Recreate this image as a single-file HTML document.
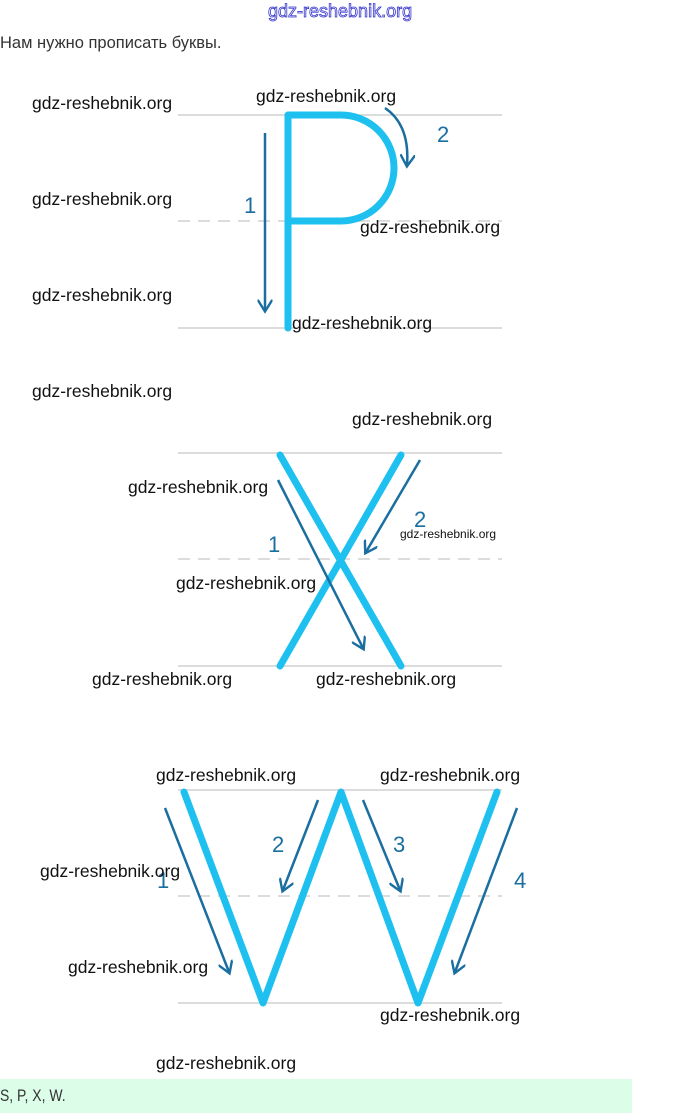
<!DOCTYPE html>
<html><head><meta charset="utf-8"><style>
body{margin:0;width:680px;height:1114px;background:#fff;position:relative;overflow:hidden;font-family:"Liberation Sans",sans-serif}
.w{position:absolute;font-size:17.5px;color:#111;white-space:nowrap}
</style></head><body>
<div style="position:absolute;left:268px;top:1px;font-size:18px;color:#fff;-webkit-text-stroke:0.8px #3333cc;">gdz-reshebnik.org</div>
<div style="position:absolute;left:0;top:34px;font-size:16.5px;color:#333;">Нам нужно прописать буквы.</div>
<svg width="680" height="1114" style="position:absolute;left:0;top:0" fill="none">
<defs><marker id="a" viewBox="0 0 10 10" refX="7" refY="5" markerWidth="6" markerHeight="6" orient="auto"><path d="M0,0 L8,5 L0,10" stroke="#1a6ea0" stroke-width="1.6" fill="none"/></marker></defs>
<g stroke="#dcdcdc" stroke-width="2">
<line x1="178" y1="115" x2="502" y2="115"/><line x1="178" y1="221" x2="502" y2="221" stroke-dasharray="12 8"/><line x1="178" y1="328" x2="502" y2="328"/>
<line x1="178" y1="453" x2="502" y2="453"/><line x1="178" y1="559" x2="502" y2="559" stroke-dasharray="12 8"/><line x1="178" y1="666" x2="502" y2="666"/>
<line x1="178" y1="790" x2="502" y2="790"/><line x1="178" y1="896" x2="502" y2="896" stroke-dasharray="12 8"/><line x1="178" y1="1003" x2="502" y2="1003"/>
</g>
<g stroke="#1ec0f0" stroke-width="7" stroke-linecap="round" stroke-linejoin="round">
<path d="M288,328 V115 H341 A53,53 0 0 1 341,221 H288"/>
<line x1="280" y1="455" x2="401" y2="666"/><line x1="401" y1="455" x2="280" y2="666"/>
<path d="M184,792 L263,1003 L341,792 L418,1003 L497,792"/>
</g>
<g stroke="#1a6ea0" stroke-width="2.5" marker-end="url(#a)">
<line x1="265" y1="133" x2="265" y2="310"/>
<path d="M385,108 Q410,125 407,165"/>
<line x1="278" y1="480" x2="363" y2="648"/>
<line x1="420" y1="460" x2="366" y2="552"/>
<line x1="165" y1="808" x2="229" y2="972"/>
<line x1="318" y1="800" x2="283" y2="890"/>
<line x1="363" y1="800" x2="400" y2="890"/>
<line x1="517" y1="808" x2="455" y2="972"/>
</g>
<g fill="#1a6ea0" font-family="Liberation Sans,sans-serif" font-size="22">
<text x="244" y="213">1</text><text x="437" y="142">2</text>
<text x="268" y="552">1</text><text x="414" y="527">2</text>
<text x="157" y="888">1</text><text x="272" y="852">2</text><text x="393" y="852">3</text><text x="514" y="888">4</text>
</g>
</svg>
<div class="w" style="left:32px;top:93px">gdz-reshebnik.org</div>
<div class="w" style="left:256px;top:86px">gdz-reshebnik.org</div>
<div class="w" style="left:32px;top:189px">gdz-reshebnik.org</div>
<div class="w" style="left:360px;top:217px">gdz-reshebnik.org</div>
<div class="w" style="left:32px;top:285px">gdz-reshebnik.org</div>
<div class="w" style="left:292px;top:313px">gdz-reshebnik.org</div>
<div class="w" style="left:32px;top:381px">gdz-reshebnik.org</div>
<div class="w" style="left:352px;top:409px">gdz-reshebnik.org</div>
<div class="w" style="left:128px;top:477px">gdz-reshebnik.org</div>
<div class="w" style="left:400px;top:527px;font-size:12px">gdz-reshebnik.org</div>
<div class="w" style="left:176px;top:573px">gdz-reshebnik.org</div>
<div class="w" style="left:92px;top:669px">gdz-reshebnik.org</div>
<div class="w" style="left:316px;top:669px">gdz-reshebnik.org</div>
<div class="w" style="left:156px;top:765px">gdz-reshebnik.org</div>
<div class="w" style="left:380px;top:765px">gdz-reshebnik.org</div>
<div class="w" style="left:40px;top:861px">gdz-reshebnik.org</div>
<div class="w" style="left:68px;top:957px">gdz-reshebnik.org</div>
<div class="w" style="left:380px;top:1005px">gdz-reshebnik.org</div>
<div class="w" style="left:156px;top:1053px">gdz-reshebnik.org</div>
<div style="position:absolute;left:0;top:1079px;width:632px;height:34px;background:#dcfde8"></div>
<div style="position:absolute;left:0;top:1086px;font-size:17px;color:#333;transform:scaleX(0.82);transform-origin:left">S, P, X, W.</div>
</body></html>
